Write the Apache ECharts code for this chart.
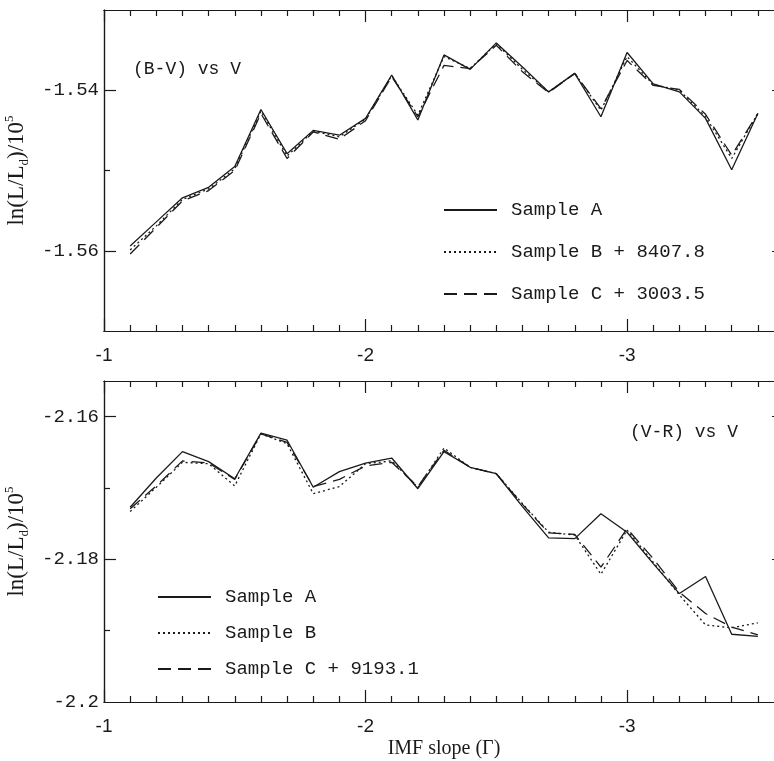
<!DOCTYPE html>
<html>
<head>
<meta charset="utf-8">
<script src="https://cdn.jsdelivr.net/npm/echarts@6/dist/echarts.min.js"></script>
<style>html,body{margin:0;padding:0;background:#fff;}#c{width:774px;height:761px;}</style>
</head>
<body>
<div id="c"></div>
<script>
// ---- data ----
var slope = [-1.1,-1.2,-1.3,-1.4,-1.5,-1.6,-1.7,-1.8,-1.9,-2.0,-2.1,-2.2,-2.3,-2.4,-2.5,-2.6,-2.7,-2.8,-2.9,-3.0,-3.1,-3.2,-3.3,-3.4,-3.5];

var bvA = [-1.5594,-1.5564,-1.5534,-1.5521,-1.5495,-1.5424,-1.5479,-1.5450,-1.5456,-1.5435,-1.5381,-1.5437,-1.5356,-1.5374,-1.5341,-1.5371,-1.5402,-1.5379,-1.5433,-1.5353,-1.5392,-1.5402,-1.5435,-1.5499,-1.5429];
var bvB = [-1.5599,-1.5569,-1.5536,-1.5523,-1.5498,-1.5426,-1.5482,-1.5451,-1.5458,-1.5436,-1.5382,-1.5431,-1.5358,-1.5373,-1.5342,-1.5374,-1.5402,-1.5379,-1.5425,-1.5358,-1.5393,-1.5400,-1.5433,-1.5485,-1.5429];
var bvC = [-1.5604,-1.5571,-1.5538,-1.5525,-1.5500,-1.5429,-1.5485,-1.5452,-1.5461,-1.5438,-1.5383,-1.5433,-1.5369,-1.5373,-1.5344,-1.5377,-1.5403,-1.5379,-1.5423,-1.5363,-1.5394,-1.5399,-1.5430,-1.5481,-1.5429];

var vrA = [-2.1727,-2.1686,-2.1649,-2.1663,-2.1687,-2.1623,-2.1633,-2.1699,-2.1677,-2.1665,-2.1658,-2.1701,-2.1649,-2.1671,-2.1680,-2.1726,-2.1770,-2.1771,-2.1736,-2.1762,-2.1806,-2.1848,-2.1824,-2.1905,-2.1908];
var vrB = [-2.1733,-2.1699,-2.1664,-2.1666,-2.1697,-2.1624,-2.1638,-2.1708,-2.1698,-2.1666,-2.1662,-2.1699,-2.1644,-2.1671,-2.1680,-2.1722,-2.1762,-2.1766,-2.1821,-2.1759,-2.1804,-2.1850,-2.1892,-2.1896,-2.1889];
var vrC = [-2.1729,-2.1697,-2.1662,-2.1665,-2.1688,-2.1624,-2.1636,-2.1698,-2.1688,-2.1669,-2.1664,-2.1698,-2.1647,-2.1671,-2.1680,-2.1723,-2.1763,-2.1765,-2.1811,-2.1757,-2.1799,-2.1846,-2.1876,-2.1895,-2.1906];

var topNames = ['Sample A', 'Sample B + 8407.8', 'Sample C + 3003.5'];
var botNames = ['Sample A', 'Sample B', 'Sample C + 9193.1'];

var xMajor = [-1, -2, -3];
var xMinor = [-1.1,-1.2,-1.3,-1.4,-1.5,-1.6,-1.7,-1.8,-1.9,-2.1,-2.2,-2.3,-2.4,-2.5,-2.6,-2.7,-2.8,-2.9,-3.1,-3.2,-3.3,-3.4,-3.5];
var yTopLabels = [-1.54, -1.56];
var yTopMinor = [-1.55];
var yBotLabels = [-2.16, -2.18, -2.2];
var yBotMajor = [-2.16, -2.18];
var yBotMinor = [-2.17, -2.19];

// ---- styling ----
var INK = '#1a1a1a';
var MONO = '"Liberation Mono","Courier New",monospace';
var SANS = '"Liberation Sans",Arial,sans-serif';
var SERIF = '"Liberation Serif","Times New Roman",serif';

function pairs(xs, ys) { return xs.map(function (x, i) { return [x, ys[i]]; }); }

function xAx(grid, pos, ticks, len, opts) {
  var a = {
    type: 'value', gridIndex: grid, position: pos, min: -3.6, max: -1, inverse: true,
    splitLine: { show: false },
    axisLine: { show: true, lineStyle: { color: INK, width: 1.2 } },
    axisTick: { show: true, inside: true, length: len, customValues: ticks, lineStyle: { color: INK, width: 1.2 } },
    axisLabel: { show: false }
  };
  return Object.assign(a, opts || {});
}
function yAx(grid, pos, min, max, ticks, len, opts) {
  var a = {
    type: 'value', gridIndex: grid, position: pos, min: min, max: max,
    splitLine: { show: false },
    axisLine: { show: true, lineStyle: { color: INK, width: 1.2 } },
    axisTick: { show: true, inside: true, length: len, customValues: ticks, lineStyle: { color: INK, width: 1.2 } },
    axisLabel: { show: false }
  };
  return Object.assign(a, opts || {});
}

var xLabel = { show: true, customValues: xMajor, margin: 15, color: INK, fontFamily: SANS, fontSize: 19, formatter: function (v) { return String(v); } };
var yName = '{a|ln(L/L}{s|d}{a|)/10}{p|5}';
var yNameStyle = {
  color: INK, fontFamily: SERIF,
  rich: {
    a: { fontFamily: SERIF, fontSize: 23, lineHeight: 28, color: INK },
    s: { fontFamily: SERIF, fontSize: 13, lineHeight: 13, verticalAlign: 'bottom', color: INK },
    p: { fontFamily: SERIF, fontSize: 13, lineHeight: 13, verticalAlign: 'top', color: INK }
  }
};

var xAxes = [
  xAx(0, 'bottom', xMajor, 12, { axisLabel: xLabel }),
  xAx(0, 'bottom', xMinor, 6),
  xAx(0, 'top', xMajor, 12),
  xAx(0, 'top', xMinor, 6),
  xAx(1, 'bottom', xMajor, 12, {
    axisLabel: xLabel, name: 'IMF slope (Γ)', nameLocation: 'middle', nameGap: 37,
    nameTextStyle: { color: INK, fontFamily: SERIF, fontSize: 20 }
  }),
  xAx(1, 'bottom', xMinor, 6),
  xAx(1, 'top', xMajor, 12),
  xAx(1, 'top', xMinor, 6)
];

var yLabelBase = { show: true, margin: 5, color: INK, fontFamily: MONO, fontSize: 19, formatter: function (v) { return String(v); } };

var yAxes = [
  yAx(0, 'left', -1.57, -1.53, yTopLabels, 12, {
    axisLabel: Object.assign({}, yLabelBase, { customValues: yTopLabels }),
    name: yName, nameLocation: 'middle', nameRotate: 90, nameGap: 59, nameTextStyle: yNameStyle
  }),
  yAx(0, 'left', -1.57, -1.53, yTopMinor, 6),
  yAx(0, 'right', -1.57, -1.53, yTopLabels, 12),
  yAx(0, 'right', -1.57, -1.53, yTopMinor, 6),
  yAx(1, 'left', -2.2, -2.155, yBotMajor, 12, {
    axisLabel: Object.assign({}, yLabelBase, { customValues: yBotLabels }),
    name: yName, nameLocation: 'middle', nameRotate: 90, nameGap: 59, nameTextStyle: yNameStyle
  }),
  yAx(1, 'left', -2.2, -2.155, yBotMinor, 6),
  yAx(1, 'right', -2.2, -2.155, yBotMajor, 12),
  yAx(1, 'right', -2.2, -2.155, yBotMinor, 6)
];

var styles = [
  { type: 'solid', width: 1.3 },
  { type: [2, 3], width: 1.3 },
  { type: [13, 7], width: 1.3 }
];

function mkSeries(name, ys, grid, sty) {
  return {
    type: 'line', name: name, data: pairs(slope, ys),
    xAxisIndex: grid * 4, yAxisIndex: grid * 4,
    symbol: 'none', silent: true, animation: false,
    lineStyle: { color: INK, width: sty.width, type: sty.type },
    itemStyle: { color: INK }
  };
}

var series = [
  mkSeries(topNames[0], bvA, 0, styles[0]),
  mkSeries(topNames[1], bvB, 0, styles[1]),
  mkSeries(topNames[2], bvC, 0, styles[2]),
  mkSeries(botNames[0], vrA, 1, styles[0]),
  mkSeries(botNames[1], vrB, 1, styles[1]),
  mkSeries(botNames[2], vrC, 1, styles[2])
];

var legendText = { color: INK, fontFamily: MONO, fontSize: 19, lineHeight: 20, padding: [0, 0, 0, 9] };
var legendItem = { color: 'rgba(0,0,0,0)', opacity: 0, borderWidth: 0 };

var option = {
  animation: false,
  backgroundColor: '#fff',
  grid: [
    { left: 104, top: 10, width: 680, height: 321, outerBoundsMode: 'none', containLabel: false },
    { left: 104, top: 381, width: 680, height: 321, outerBoundsMode: 'none', containLabel: false }
  ],
  title: [
    { text: '(B-V) vs V', left: 133, top: 60, padding: 0, textStyle: { color: INK, fontFamily: MONO, fontSize: 18, fontWeight: 'normal' } },
    { text: '(V-R) vs V', left: 630, top: 423, padding: 0, textStyle: { color: INK, fontFamily: MONO, fontSize: 18, fontWeight: 'normal' } }
  ],
  legend: [
    { data: topNames, orient: 'vertical', left: 443, top: 200, padding: 0, itemWidth: 53, itemHeight: 14, itemGap: 22, textStyle: legendText, itemStyle: legendItem, selectedMode: false },
    { data: [botNames[0], botNames[1], botNames[2]], orient: 'vertical', left: 157, top: 587, padding: 0, itemWidth: 53, itemHeight: 14, itemGap: 16, textStyle: legendText, itemStyle: legendItem, selectedMode: false }
  ],
  xAxis: xAxes,
  yAxis: yAxes,
  series: series
};

var chart = echarts.init(document.getElementById('c'), null, { renderer: 'canvas' });
chart.setOption(option);
</script>
</body>
</html>
